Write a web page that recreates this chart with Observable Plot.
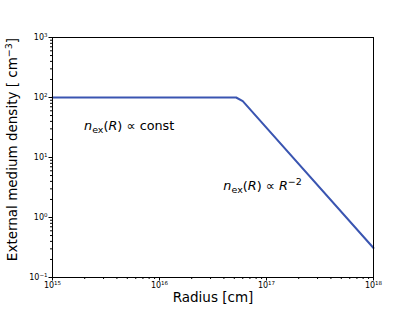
<!DOCTYPE html>
<html>
<head>
<meta charset="utf-8">
<script src="https://cdn.jsdelivr.net/npm/d3@7"></script>
<script src="https://cdn.jsdelivr.net/npm/@observablehq/plot@0.6"></script>
<style>
  html, body { margin: 0; padding: 0; background: white; }
</style>
</head>
<body>
<div id="chart"></div>
<script>
// Data
const radius = [1e15, 5.2e16, 6e16, 1e18];
const density = [100, 100, 87, 0.31];

const xTicks = [1e15, 1e16, 1e17, 1e18];
const xTickLabels = ["10^15", "10^16", "10^17", "10^18"];
const yTicks = [0.1, 1, 10, 100, 1000];
const yTickLabels = ["10^−1", "10^0", "10^1", "10^2", "10^3"];

const annotations = ["n_ex(R) ∝ const", "n_ex(R) ∝ R^-2"];
const annotX = [1.97e15, 3.95e16];
const annotY = [33, 3.3];

const xLabel = "Radius [cm]";
const yLabel = "External medium density [ cm^−3]";

const data = radius.map((r, i) => ({r, n: density[i]}));
const annData = annotations.map((t, i) => ({t, x: annotX[i], y: annotY[i]}));

function minorTicks(lo, hi) {
  const out = [];
  for (let e = lo; e < hi; e++) for (let k = 2; k <= 9; k++) out.push(k * Math.pow(10, e));
  return out;
}

const chart = Plot.plot({
  width: 415,
  height: 311,
  marginLeft: 52,
  marginRight: 42,
  marginTop: 37,
  marginBottom: 34,
  style: { fontFamily: "DejaVu Sans", background: "white", color: "black" },
  x: { type: "log", domain: [1e15, 1e18] },
  y: { type: "log", domain: [0.1, 1000] },
  marks: [
    Plot.line(data, { x: "r", y: "n", stroke: "#3a55b1", strokeWidth: 2 }),
    Plot.frame({ stroke: "black", strokeWidth: 1 }),
    Plot.axisX({ ticks: xTicks, tickFormat: (d) => xTickLabels[xTicks.indexOf(d)], tickSize: 3.5, tickPadding: 1.5, fontSize: 8, label: null }),
    Plot.axisX({ ticks: minorTicks(15, 18), tickFormat: () => "", tickSize: 2, label: null }),
    Plot.axisY({ ticks: yTicks, tickFormat: (d) => yTickLabels[yTicks.indexOf(d)], tickSize: 3.5, tickPadding: 1.5, fontSize: 8, label: null }),
    Plot.axisY({ ticks: minorTicks(-1, 3), tickFormat: () => "", tickSize: 2, label: null }),
    Plot.text(annData, { x: "x", y: "y", text: "t", textAnchor: "start", fontSize: 12.8, fill: "black" }),
    Plot.text([xLabel], { frameAnchor: "bottom", dy: 24, fontSize: 13.5, fill: "black" }),
    Plot.text([yLabel], { frameAnchor: "left", textAnchor: "middle", dx: -40, dy: -8, rotate: -90, fontSize: 13.5, fill: "black" })
  ]
});

// Rich-text formatting (italic variables, subscripts, superscripts)
const NS = "http://www.w3.org/2000/svg";
function span(parent, txt, opts = {}) {
  const s = document.createElementNS(NS, "tspan");
  s.textContent = txt;
  if (opts.italic) s.setAttribute("font-style", "italic");
  if (opts.size) s.setAttribute("font-size", opts.size);
  if (opts.dy) s.setAttribute("dy", opts.dy);
  parent.appendChild(s);
  return s;
}
chart.querySelectorAll("text").forEach(t => {
  const c = t.textContent;
  if (c.startsWith("n_ex")) {
    t.textContent = "";
    span(t, "n", { italic: true });
    span(t, "ex", { size: 9.5, dy: 3 });
    span(t, "(", { dy: -3 });
    span(t, "R", { italic: true });
    span(t, ") ∝ ");
    if (c.endsWith("const")) {
      span(t, "const");
    } else {
      span(t, "R", { italic: true });
      span(t, "−2", { size: 9.5, dy: -5 });
    }
  } else if (/^10\^/.test(c)) {
    const exp = c.slice(3);
    t.textContent = "";
    span(t, "10");
    span(t, exp, { size: 5.5, dy: -3.5 });
  } else if (c.startsWith("External")) {
    t.textContent = "";
    span(t, "External medium density [ cm");
    span(t, "−3", { size: 9.5, dy: -5 });
    span(t, "]", { dy: 5 });
  }
});

document.getElementById("chart").appendChild(chart);
</script>
</body>
</html>
